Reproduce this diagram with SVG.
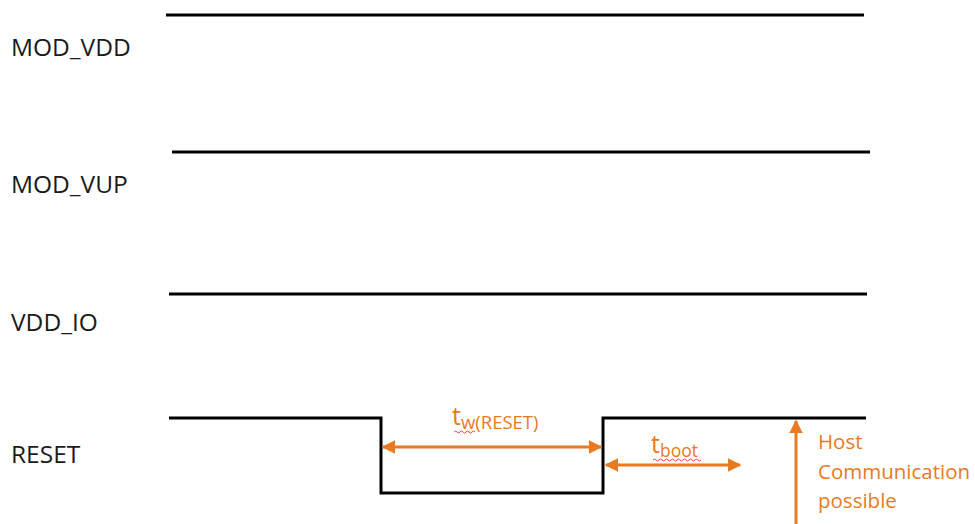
<svg xmlns="http://www.w3.org/2000/svg" width="975" height="524" viewBox="0 0 975 524">
<style>
.sig{fill:none;stroke:#000;stroke-width:3;stroke-linejoin:miter}
.lbl{font-family:"Open Sans","Liberation Sans",sans-serif;font-size:24.5px;fill:#1a1a1a}
.or{font-family:"Open Sans","Liberation Sans",sans-serif;fill:#E87A22}
.arr{stroke:#E87A22;stroke-width:3;fill:none}
.sq{stroke:#f04040;stroke-width:1;fill:none}
</style>
<defs>
<marker id="ah" viewBox="0 0 10 10" refX="9" refY="5" markerWidth="4.5" markerHeight="4.5" orient="auto-start-reverse" markerUnits="strokeWidth">
<path d="M0,0 L10,5 L0,10 z" fill="#E87A22"/>
</marker>
</defs>
<g id="mod_vdd">
<text class="lbl" x="11" y="56">MOD_VDD</text>
<line class="sig" x1="166" y1="15" x2="864" y2="15"/>
</g>
<g id="mod_vup">
<text class="lbl" x="11" y="193">MOD_VUP</text>
<line class="sig" x1="172" y1="152" x2="870" y2="152"/>
</g>
<g id="vdd_io">
<text class="lbl" x="11" y="331">VDD_IO</text>
<line class="sig" x1="169" y1="294" x2="867" y2="294"/>
</g>
<g id="reset">
<text class="lbl" x="11" y="463">RESET</text>
<polyline class="sig" points="169,418 381,418 381,493 603,493 603,418 866,418"/>
</g>
<g id="connectors">
<line class="arr" x1="383" y1="447" x2="601" y2="447" marker-start="url(#ah)" marker-end="url(#ah)"/>
<line class="arr" x1="606" y1="465" x2="740" y2="465" marker-start="url(#ah)" marker-end="url(#ah)"/>
<line class="arr" x1="796" y1="524" x2="796" y2="421" marker-end="url(#ah)"/>
</g>
<g id="tw_label">
<text class="or" x="452" y="425" font-size="25">t<tspan font-size="18.5" dy="4">w(RESET)</tspan></text>
<path class="sq" d="M454,432 q1.5,-2 3,0 t3,0 t3,0 t3,0 t3,0 t3,0 t3,0"/>
</g>
<g id="tboot_label">
<text class="or" x="651" y="453" font-size="25">t<tspan font-size="17.5" dy="4">boot</tspan></text>
<path class="sq" d="M653,460 q1.5,-2 3,0 t3,0 t3,0 t3,0 t3,0 t3,0 t3,0 t3,0 t3,0 t3,0 t3,0 t3,0 t3,0 t3,0 t3,0 t3,0"/>
</g>
<g id="host_label">
<text class="or" font-size="20.5"><tspan x="818" y="449">Host</tspan><tspan x="818" y="479">Communication</tspan><tspan x="818" y="508">possible</tspan></text>
</g>
</svg>
